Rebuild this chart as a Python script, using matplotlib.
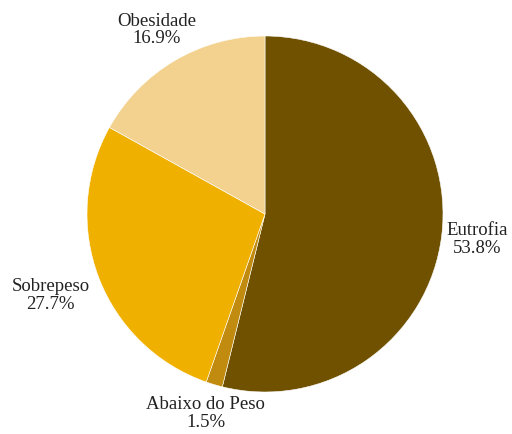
import matplotlib
matplotlib.use("Agg")
import matplotlib.pyplot as plt
import numpy as np

categories = ["Eutrofia", "Abaixo do Peso", "Sobrepeso", "Obesidade"]
values = [53.8, 1.5, 27.7, 16.9]
colors = ["#6F5100", "#C08B0E", "#F0B000", "#F2D28E"]
label_dist = [1.2, 1.17, 1.29, 1.2]

W, H = 512, 434
cx, cy, R = 265, 220, 178  # center in px (from bottom), radius px

fig = plt.figure(figsize=(W / 100, H / 100), dpi=100)
ax = fig.add_axes([0, 0, 1, 1])
wedges, _ = ax.pie(values, colors=colors, startangle=90, counterclock=False,
                   wedgeprops=dict(edgecolor="white", linewidth=0.4))
ax.set_xlim(-cx / R, (W - cx) / R)
ax.set_ylim(-cy / R, (H - cy) / R)
ax.set_aspect("equal")
ax.axis("off")

for w, cat, v, d in zip(wedges, categories, values, label_dist):
    ang = np.deg2rad((w.theta1 + w.theta2) / 2)
    ax.text(d * np.cos(ang), d * np.sin(ang), f"{cat}\n{v:.1f}%",
            ha="center", va="center", fontsize=13.5, family="Liberation Serif",
            color="#222222", linespacing=1.05)

fig.savefig("out.png", dpi=100)
